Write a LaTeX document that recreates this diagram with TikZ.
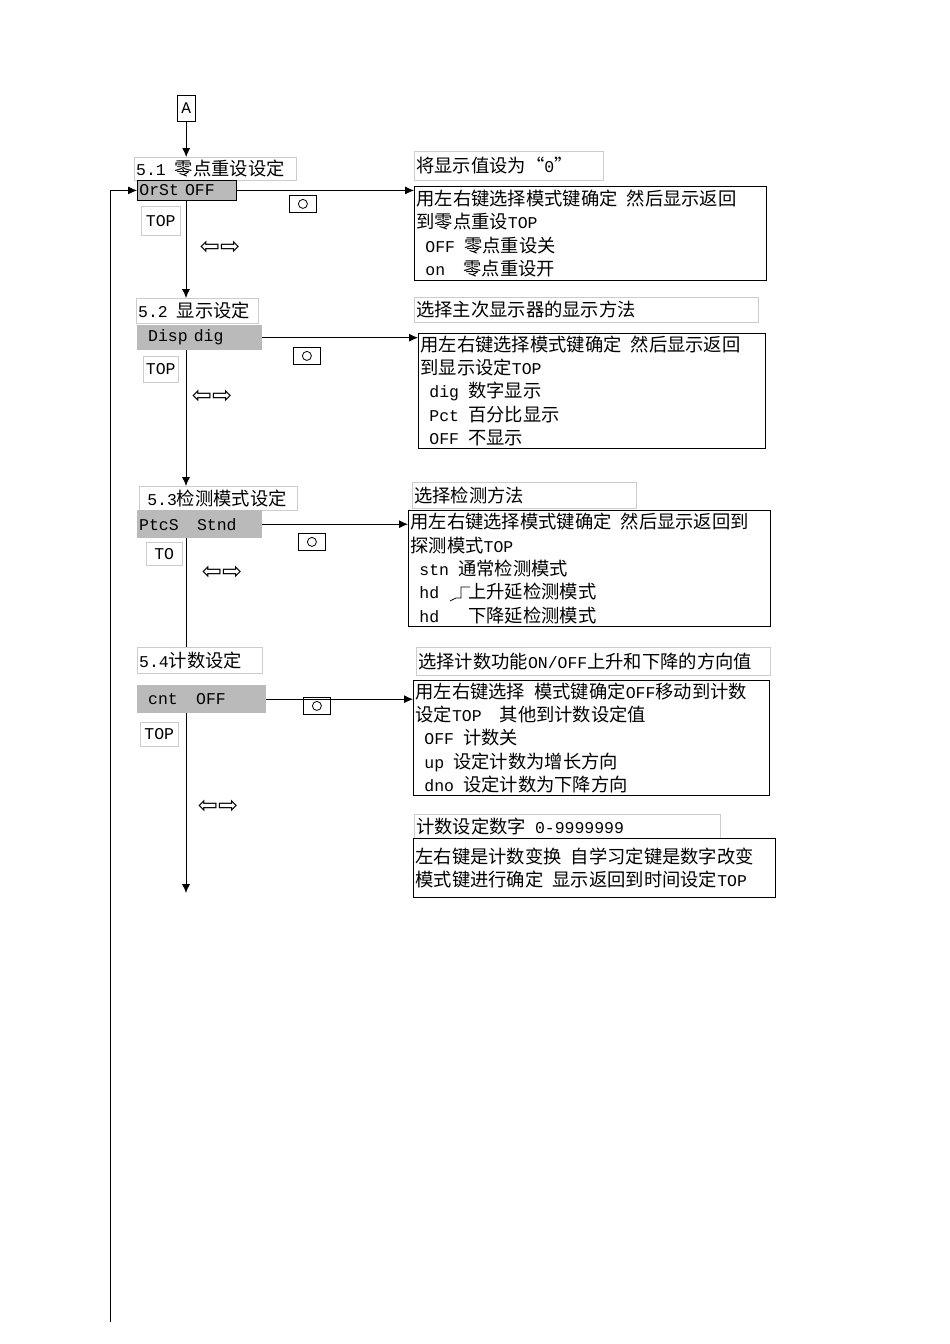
\documentclass[tikz,border=0pt]{standalone}
\usepackage{fontspec}
\setmainfont{Noto Sans CJK SC}
\setmonofont{Liberation Mono}[Scale=0.9]
\newfontfamily\djv{DejaVu Sans}
\usetikzlibrary{arrows.meta}
\tikzset{
 base/.style={anchor=north west,inner sep=2pt,font=\fontsize{18.3}{23.3}\selectfont,align=left},
 lbl/.style={base,draw=black!20},
 dk/.style={base,draw=black,line width=0.9pt},
 gr/.style={base,fill=black!27},
 key/.style={anchor=north west,draw,line width=0.8pt,minimum width=27pt,minimum height=17pt,inner sep=0pt},
 ar/.style={-{Latex[length=9pt,width=8pt]},line width=0.8pt},
 ln/.style={line width=0.8pt},
 lr/.style={font=\djv\fontsize{24}{24}\selectfont},
}
\newcommand{\bx}[7]{\node[#2,minimum width=#5pt-#3pt,minimum height=#6pt-#4pt,text width=#5pt-#3pt-4pt] (#1) at (#3,#4) {#7};}
\newcommand{\ind}{\hspace*{9pt}}
\newcommand{\gap}{\hspace{9pt}}
\begin{document}
\begin{tikzpicture}[x=1pt,y=-1pt]
\useasboundingbox (0,0) rectangle (950,1344);
\fill[white] (0,0) rectangle (950,1344);
% A
\node[draw,anchor=north west,minimum width=18pt,minimum height=26pt,inner sep=0pt,font=\fontsize{18}{18}\selectfont] (A) at (177,95) {\texttt{A}};
% 5.1
\bx{l1}{lbl}{134}{157}{296}{180}{\texttt{5.1}\gap 零点重设设定}
\bx{s1}{gr,draw=black,line width=0.9pt}{137}{180}{236}{200}{\texttt{OrSt OFF}}
\bx{t1}{lbl,align=center}{141}{206}{180}{235}{\texttt{TOP}}
\node[key] (k1) at (289,195) {}; \draw[ln] (k1.center) circle (4.5pt);
\node[lr] (a1) at (220,248) {⇦⇨};
\bx{r1}{lbl}{414}{151}{603}{180}{将显示值设为“\texttt{0}”}
\bx{b1}{dk}{414}{186}{766}{280}{用左右键选择模式键确定\gap 然后显示返回\\到零点重设\texttt{TOP}\\\ind\texttt{OFF}\gap 零点重设关\\\ind\texttt{on\ \ \ }零点重设开}
% 5.2
\bx{l2}{lbl}{136}{298}{258}{323}{\texttt{5.2}\gap 显示设定}
\bx{s2}{gr}{137}{325}{262}{350}{\ind\texttt{Disp dig}}
\bx{t2}{lbl,align=center}{143}{356}{178}{382}{\texttt{TOP}}
\node[key] (k2) at (293,347) {}; \draw[ln] (k2.center) circle (4.5pt);
\node[lr] (a2) at (212,397) {⇦⇨};
\bx{r2}{lbl}{414}{297}{758}{322}{选择主次显示器的显示方法}
\bx{b2}{dk}{418}{333}{765}{448}{用左右键选择模式键确定\gap 然后显示返回\\到显示设定\texttt{TOP}\\\ind\texttt{dig}\gap 数字显示\\\ind\texttt{Pct}\gap 百分比显示\\\ind\texttt{OFF}\gap 不显示}
% 5.3
\bx{l3}{lbl}{139}{486}{297}{510}{\ \texttt{5.3}检测模式设定}
\bx{s3}{gr}{137}{510}{262}{538}{\texttt{PtcS\ \ \ Stnd}}
\bx{t3}{lbl,align=center}{146}{542}{182}{565}{\texttt{TO}}
\node[key] (k3) at (298,533) {}; \draw[ln] (k3.center) circle (4.5pt);
\node[lr] (a3) at (222,573) {⇦⇨};
\bx{r3}{lbl}{412}{482}{636}{508}{选择检测方法}
\bx{b3}{dk}{408}{510}{770}{626}{用左右键选择模式键确定\gap 然后显示返回到\\探测模式\texttt{TOP}\\\ind\texttt{stn}\gap 通常检测模式\\\ind\texttt{hd}\hspace{29pt}上升延检测模式\\\ind\texttt{hd}\hspace{29pt}下降延检测模式}
\draw[ln] (450,601) -- (456,598) -- (461,598) -- (461,587) -- (470,587);
% 5.4
\bx{l4}{lbl}{137}{647}{262}{673}{\texttt{5.4}计数设定}
\bx{s4}{gr}{137}{685}{266}{713}{\ind\texttt{cnt\ \ \ OFF}}
\bx{t4}{lbl,align=center}{140}{722}{178}{746}{\texttt{TOP}}
\node[key] (k4) at (303,697) {}; \draw[ln] (k4.center) circle (4.5pt);
\node[lr] (a4) at (218,807) {⇦⇨};
\bx{r4}{lbl}{416}{647}{770}{675}{选择计数功能\texttt{ON/OFF}上升和下降的方向值}
\bx{b4}{dk}{413}{680}{769}{795}{用左右键选择\gap 模式键确定\texttt{OFF}移动到计数\\设定\texttt{TOP}\gap\gap 其他到计数设定值\\\ind\texttt{OFF}\gap 计数关\\\ind\texttt{up}\gap 设定计数为增长方向\\\ind\texttt{dno}\gap 设定计数为下降方向}
\bx{r5}{lbl}{414}{814}{720}{838}{计数设定数字\gap\texttt{0-9999999}}
\bx{b5}{dk}{413}{838}{775}{897}{左右键是计数变换\gap 自学习定键是数字改变\\模式键进行确定\gap 显示返回到时间设定\texttt{TOP}}
% connectors
\coordinate (x0) at (186,0);
\draw[ar] (A.south) -- (A.south |- l1.north);
\draw[ar] (x0 |- s1.south) -- (x0 |- l2.north);
\draw[ar] (x0 |- s2.south) -- (x0 |- l3.north);
\draw[ln] (x0 |- s3.south) -- (x0 |- l4.north);
\coordinate (e4) at (186,893);
\draw[ar] (x0 |- s4.south) -- (e4);
\draw[ar] (s1.east) -- (s1.east -| b1.west);
\draw[ar] (s2.east) -- (s2.east -| b2.west);
\draw[ar] (s3.east) -- (s3.east -| b3.west);
\draw[ar] (s4.east) -- (s4.east -| b4.west);
\coordinate (lb) at (110,1322);
\draw[ar] (lb) |- (s1.west);
\end{tikzpicture}
\end{document}
